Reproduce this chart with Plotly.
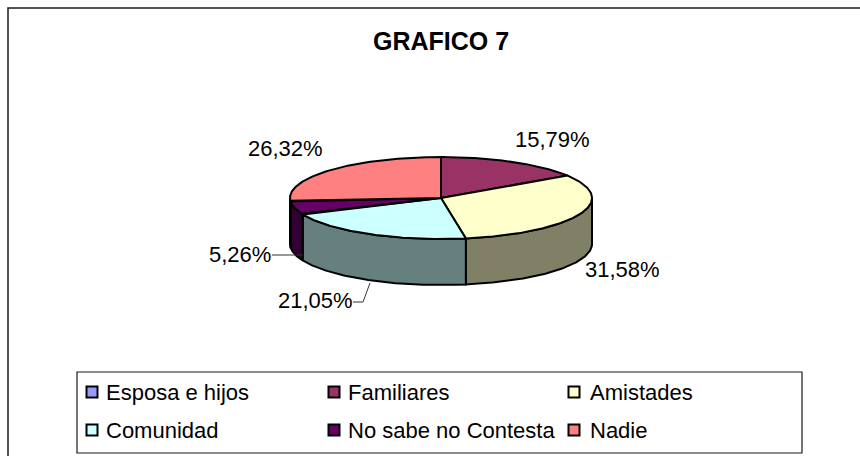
import numpy as np
import plotly.graph_objects as go

categories = ["Esposa e hijos", "Familiares", "Amistades", "Comunidad", "No sabe no Contesta", "Nadie"]
values = [0.0, 15.79, 31.58, 21.05, 5.26, 26.32]
labels = ["", "15,79%", "31,58%", "21,05%", "5,26%", "26,32%"]
top_colors = ["#9999FF", "#993366", "#FFFFCC", "#CCFFFF", "#660066", "#FF8080"]
side_colors = ["#666699", "#662244", "#808066", "#668080", "#330033", "#804040"]

# pie geometry in pixels
CX, CY, RX, RY, DEPTH = 441, 198, 151, 41, 46
INK = "#000000"
FONT = "Liberation Sans"


def pt(theta):
    return CX + RX * np.sin(theta), CY - RY * np.cos(theta)


fig = go.Figure()
total = sum(values)
edges = np.cumsum([0.0] + values) / total * 2 * np.pi

# side walls first
for i in range(len(values)):
    a, b = edges[i], edges[i + 1]
    lo, hi = max(a, np.pi / 2), min(b, 3 * np.pi / 2)
    if hi <= lo:
        continue
    t = np.linspace(lo, hi, 80)
    x, y = pt(t)
    fig.add_trace(go.Scatter(
        x=np.r_[x, x[::-1], x[0]], y=np.r_[y, y[::-1] + DEPTH, y[0]],
        mode="lines", fill="toself", fillcolor=side_colors[i],
        line=dict(color=INK, width=2), hoverinfo="skip", showlegend=False))

# top slices
for i in range(len(values)):
    a, b = edges[i], edges[i + 1]
    if b <= a:
        continue
    t = np.linspace(a, b, 120)
    x, y = pt(t)
    fig.add_trace(go.Scatter(
        x=np.r_[CX, x, CX], y=np.r_[CY, y, CY],
        mode="lines", fill="toself", fillcolor=top_colors[i],
        line=dict(color=INK, width=2), hoverinfo="skip", showlegend=False))

# leader lines
leaders = [([272, 303], [255, 255]), ([353, 363, 370], [302, 302, 283])]
for lx, ly in leaders:
    fig.add_trace(go.Scatter(x=lx, y=ly, mode="lines", line=dict(color="#333333", width=1),
                             hoverinfo="skip", showlegend=False))

# legend
leg_x = [92, 334, 574, 92, 334, 574]
leg_y = [392, 392, 392, 430, 430, 430]
leg_text_x = [104, 346, 588, 104, 346, 588]
fig.add_trace(go.Scatter(
    x=leg_x, y=leg_y, mode="markers",
    marker=dict(symbol="square", size=11, color=top_colors, line=dict(color=INK, width=2)),
    hoverinfo="skip", showlegend=False))

annotations = [dict(x=x, y=y, text=c, showarrow=False, xanchor="left", yanchor="middle",
                    font=dict(family=FONT, size=22, color="#000000"))
               for x, y, c in zip(leg_text_x, leg_y, categories)]

label_pos = [None, (552, 139), (622, 269), (315, 300), (240, 254), (285, 148)]
annotations += [dict(x=p[0], y=p[1], text=t, showarrow=False, xanchor="center", yanchor="middle",
                     font=dict(family=FONT, size=22, color="#000000"))
                for p, t in zip(label_pos, labels) if p]
annotations.append(dict(x=441, y=41, text="<b>GRAFICO 7</b>", showarrow=False, xanchor="center",
                        yanchor="middle", font=dict(family=FONT, size=25, color="#000000")))

shapes = [
    dict(type="rect", x0=8, y0=8, x1=880, y1=480, line=dict(color="#1a1a1a", width=1.5), layer="below"),
    dict(type="rect", x0=77, y0=372, x1=802, y1=453, line=dict(color="#1a1a1a", width=1.2), layer="below"),
]

fig.update_layout(
    width=860, height=456, margin=dict(l=0, r=0, t=0, b=0),
    paper_bgcolor="white", plot_bgcolor="white", showlegend=False,
    xaxis=dict(range=[0, 860], visible=False, fixedrange=True),
    yaxis=dict(range=[456, 0], visible=False, fixedrange=True),
    annotations=annotations, shapes=shapes)

fig.write_html("out.html", config={"displayModeBar": False},
               post_script="document.body.style.margin='0';")
